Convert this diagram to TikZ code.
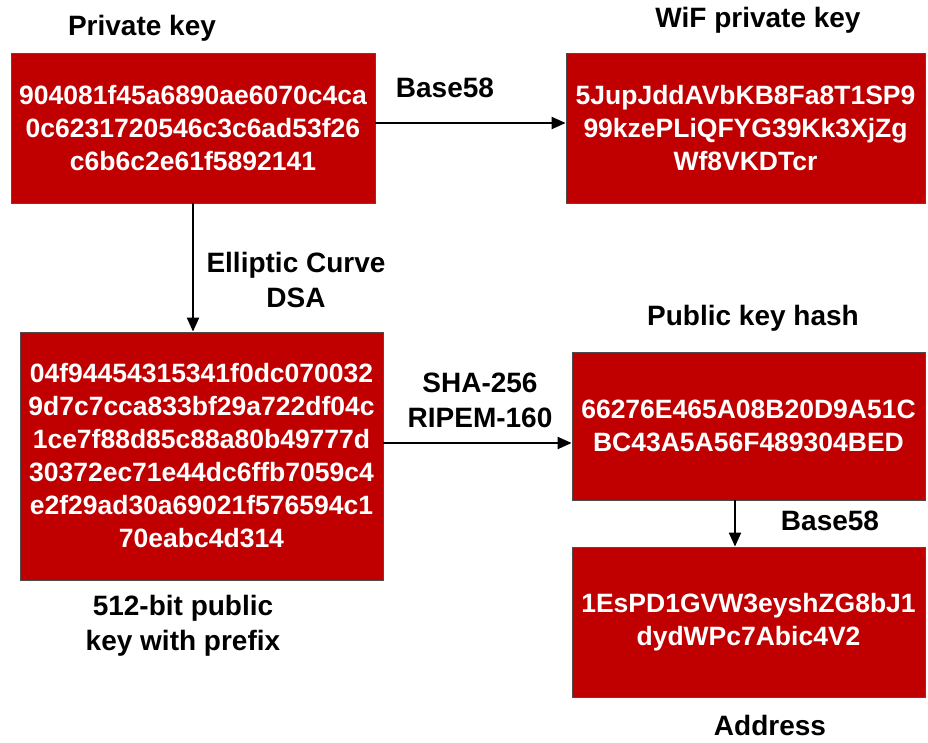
\documentclass[tikz,border=0pt]{standalone}
\usepackage{fontspec}
\setmainfont{Liberation Sans}
\usetikzlibrary{arrows.meta}
\definecolor{boxred}{RGB}{192,0,0}
\tikzset{
  keybox/.style={draw=black!70, line width=0.8pt, fill=boxred, text=white, align=center,
    font=\fontsize{26.5}{33}\selectfont\bfseries, inner sep=0pt},
  lbl/.style={align=center, font=\fontsize{28}{35}\selectfont\bfseries, inner sep=0pt},
  conn/.style={line width=2pt, -{Triangle[length=14pt,width=12pt]}}
}
\begin{document}
\begin{tikzpicture}[x=1pt,y=-1pt]
\useasboundingbox (0,0) rectangle (928,742);
\node[keybox, minimum width=364pt, minimum height=150pt] (b1) at (193,128)
  {904081f45a6890ae6070c4ca\\0c6231720546c3c6ad53f26\\c6b6c2e61f5892141};
\node[keybox, minimum width=359pt, minimum height=150pt] (b2) at (745.5,128)
  {5JupJddAVbKB8Fa8T1SP9\\99kzePLiQFYG39Kk3XjZg\\Wf8VKDTcr};
\node[keybox, minimum width=363pt, minimum height=248pt] (b3) at (201.5,456)
  {04f94454315341f0dc070032\\9d7c7cca833bf29a722df04c\\1ce7f88d85c88a80b49777d\\30372ec71e44dc6ffb7059c4\\e2f29ad30a69021f576594c1\\70eabc4d314};
\node[keybox, minimum width=353pt, minimum height=148pt] (b4) at (748.5,426)
  {66276E465A08B20D9A51C\\BC43A5A56F489304BED};
\node[keybox, minimum width=353pt, minimum height=150pt] (b5) at (748.5,622)
  {1EsPD1GVW3eyshZG8bJ1\\dydWPc7Abic4V2};

\node[lbl] (t1) at (142,28) {Private key};
\node[lbl] (t2) at (758,20) {WiF private key};
\node[lbl] (t3) at (753,318) {Public key hash};
\node[lbl] (t4) at (183,626) {512-bit public\\key with prefix};
\node[lbl] (t5) at (770,725) {Address};

\node[lbl] (l1) at (445,88) {Base58};
\node[lbl] (l2) at (296,280) {Elliptic Curve\\DSA};
\node[lbl] (l3) at (480,400) {SHA-256\\RIPEM-160};
\node[lbl] (l4) at (830,521) {Base58};

\draw[conn] ([yshift=5pt]b1.east) -- ([yshift=5pt]b1.east -| b2.west);
\draw[conn] (b1.south) -- (b1.south |- b3.north);
\draw[conn] ([yshift=13pt]b3.east) -- ([yshift=13pt]b3.east -| b4.west);
\draw[conn] ([xshift=-13.5pt]b4.south) -- ([xshift=-13.5pt]b4.south |- b5.north);
\end{tikzpicture}
\end{document}
